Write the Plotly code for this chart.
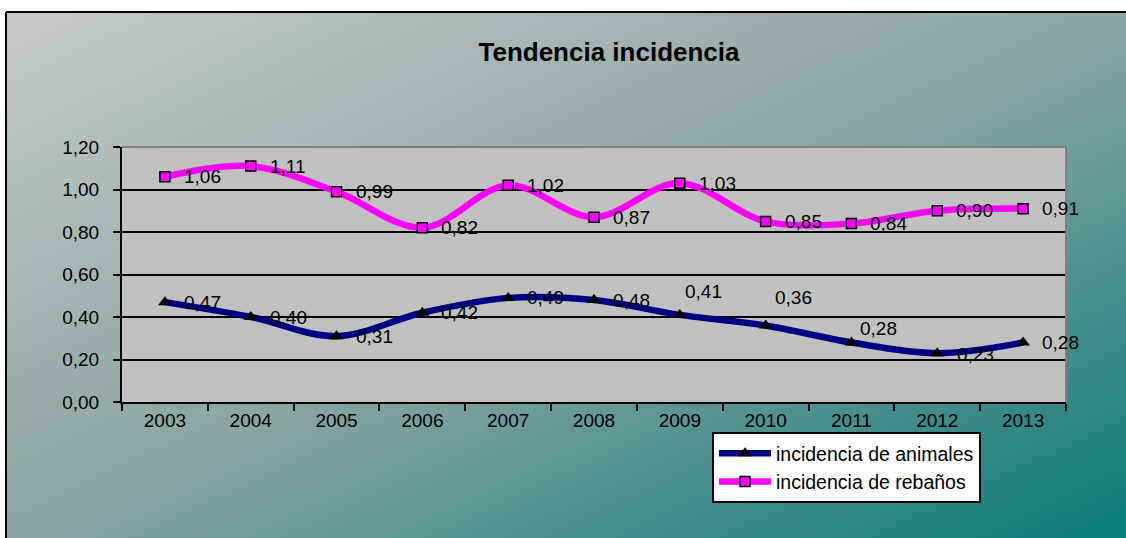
import base64

import plotly.graph_objects as go

years = ['2003', '2004', '2005', '2006', '2007', '2008', '2009', '2010', '2011', '2012', '2013']
animales = [0.47, 0.40, 0.31, 0.42, 0.49, 0.48, 0.41, 0.36, 0.28, 0.23, 0.28]
rebanos = [1.06, 1.11, 0.99, 0.82, 1.02, 0.87, 1.03, 0.85, 0.84, 0.90, 0.91]

# label offsets (px) for the data labels, as placed in the original
off_animales = [(17, 0), (17, 0), (17, 0), (17, 0), (17, 0), (17, 0), (3, 23), (7, 28), (7, 14), (18, -1), (17, 0)]
off_rebanos = [(17, 0)] * 11

W, H = 1126, 538
ML, MR, MT, MB = 122, 60, 147, 136
PW, PH = W - ML - MR, H - MT - MB


def px_x(p):
    return (p - ML) / PW


def px_y(p):
    return (H - MB - p) / PH


def fmt(v):
    return f'{v:.2f}'.replace('.', ',')


# diagonal grey -> teal background of the chart area
svg = (
    '<svg xmlns="http://www.w3.org/2000/svg" width="1120" height="526">'
    '<defs><linearGradient id="g" x1="0" y1="0" x2="1" y2="1">'
    '<stop offset="0" stop-color="#c8c8c8"/>'
    '<stop offset="0.5" stop-color="#8ba5a2"/>'
    '<stop offset="1" stop-color="#0a7b77"/>'
    '</linearGradient></defs>'
    '<rect width="1120" height="526" fill="url(#g)"/></svg>'
)
bg_src = 'data:image/svg+xml;base64,' + base64.b64encode(svg.encode()).decode()

fig = go.Figure()
fig.add_trace(go.Scatter(
    x=years, y=animales, name='incidencia de animales', mode='lines+markers',
    line=dict(color='#000080', width=6.5, shape='spline', smoothing=1),
    marker=dict(symbol='triangle-up', size=12, color='black'),
))
fig.add_trace(go.Scatter(
    x=years, y=rebanos, name='incidencia de rebaños', mode='lines+markers',
    line=dict(color='#ff00ff', width=6.5, shape='spline', smoothing=1),
    marker=dict(symbol='square', size=10, color='#ff00ff', line=dict(color='black', width=1.5)),
))

annots = []
for serie, offs in ((animales, off_animales), (rebanos, off_rebanos)):
    for i, (v, (dx, dy)) in enumerate(zip(serie, offs)):
        annots.append(dict(
            x=i, y=v, text=fmt(v), showarrow=False, xanchor='left', yanchor='middle',
            xshift=dx, yshift=dy, font=dict(size=19, color='black'),
        ))

fig.update_layout(
    width=W, height=H,
    margin=dict(l=ML, r=MR, t=MT, b=MB),
    paper_bgcolor='white', plot_bgcolor='#c0c0c0',
    font=dict(family='Liberation Sans, Arial, sans-serif', size=19, color='black'),
    separators=',.',
    title=dict(text='<b>Tendencia incidencia</b>', x=609 / W, xanchor='center',
               y=1 - 52 / H, yanchor='middle', font=dict(size=26)),
    showlegend=True,
    legend=dict(x=px_x(712), y=px_y(432), xanchor='left', yanchor='top',
                bgcolor='white', bordercolor='black', borderwidth=2,
                font=dict(size=19.5), itemwidth=52, tracegroupgap=0),
    annotations=annots,
    images=[dict(source=bg_src, xref='paper', yref='paper', x=px_x(6), y=px_y(12),
                 sizex=(W - 6) / PW, sizey=(H - 12) / PH, sizing='stretch',
                 xanchor='left', yanchor='top', layer='below')],
    shapes=[
        # grey plot area (the gradient image sits above plot_bgcolor)
        dict(type='rect', xref='paper', yref='paper', x0=0, x1=1, y0=0, y1=1,
             fillcolor='#c0c0c0', line=dict(width=0), layer='below'),
        dict(type='line', xref='paper', yref='paper', x0=px_x(6), x1=px_x(W + 5),
             y0=px_y(12), y1=px_y(12), line=dict(color='black', width=2)),
        dict(type='line', xref='paper', yref='paper', x0=px_x(6), x1=px_x(6),
             y0=px_y(12), y1=px_y(H + 5), line=dict(color='black', width=2)),
        dict(type='line', xref='paper', yref='paper', x0=0, x1=1, y0=1, y1=1,
             line=dict(color='#808080', width=2)),
        dict(type='line', xref='paper', yref='paper', x0=1, x1=1, y0=0, y1=1,
             line=dict(color='#808080', width=2)),
    ],
)
fig.update_xaxes(
    type='category', range=[-0.5, len(years) - 0.5], showgrid=False, showline=True,
    linecolor='black', linewidth=2, ticks='outside', tickson='boundaries', ticklen=7,
    tickcolor='black', tickwidth=2, zeroline=False, tickangle=0,
)
fig.update_yaxes(
    range=[0, 1.2], dtick=0.2, tickformat='.2f', showgrid=True, gridcolor='black',
    gridwidth=1.5, showline=True, linecolor='black', linewidth=2, ticks='outside',
    ticklen=7, tickcolor='black', tickwidth=2, zeroline=False, ticklabelstandoff=10,
)

fig.write_html('out.html', config={'displayModeBar': False},
               post_script="document.body.style.margin='0';document.body.style.overflow='hidden';")
